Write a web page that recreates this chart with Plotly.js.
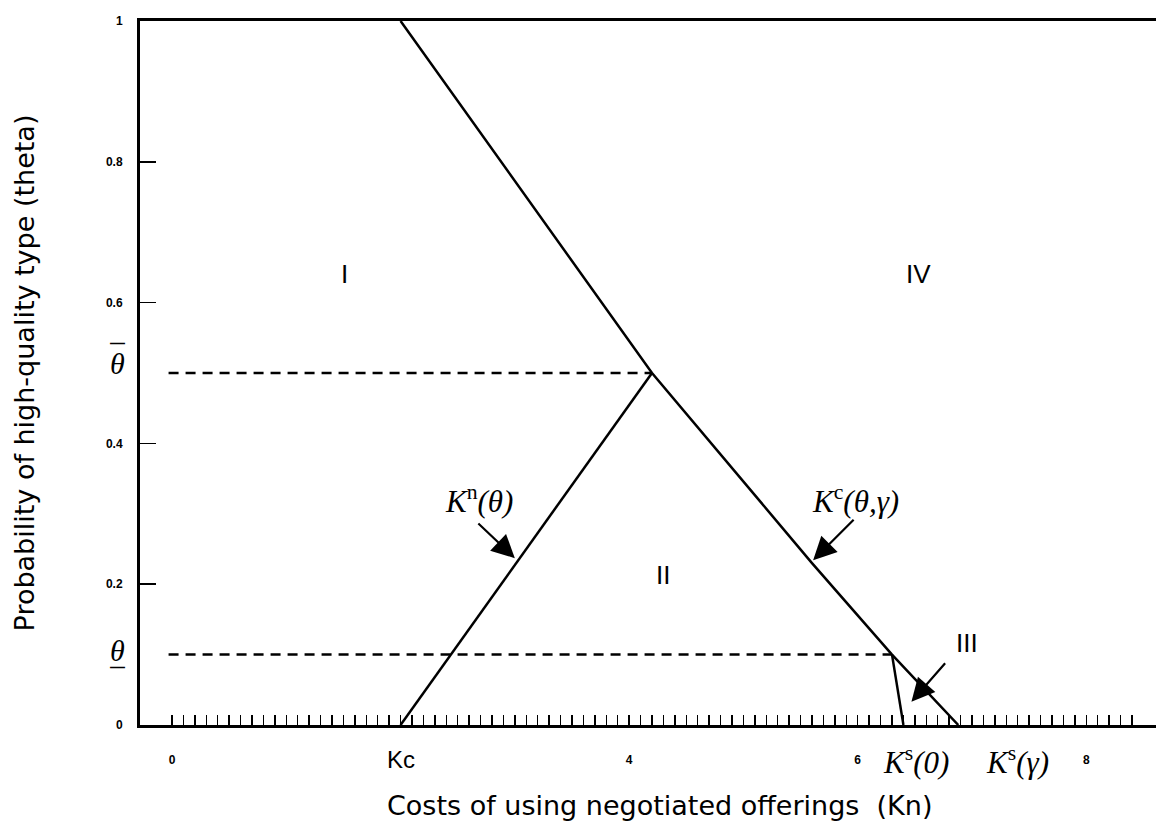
<!DOCTYPE html>
<html>
<head>
<meta charset="utf-8">
<script src="https://cdn.plot.ly/plotly-3.0.1.min.js"></script>
<style>html,body{margin:0;padding:0;background:#fff;}#chart{width:1156px;height:824px;}</style>
</head>
<body>
<div id="chart"></div>
<script>
// ---- data ----
const kcX = [2, 4.2, 5.6, 6.3, 6.88];              // K^c(theta, gamma) boundary
const kcY = [1, 0.5, 0.23, 0.1, 0];
const knX = [2, 4.2];                              // K^n(theta) boundary
const knY = [0, 0.5];
const ks0X = [6.3, 6.4];                           // K^s boundary in region III
const ks0Y = [0.1, 0];
const thetaHigh = 0.5;                             // theta-bar
const thetaLow = 0.1;                              // theta-underbar
const dashStart = -0.03;
const xTickVals = [0, 2, 4, 6, 8];
const xTickText = ['0', '', '4', '6', '8'];
const kcTickLabel = 'Kc';
const yTickVals = [0, 0.2, 0.4, 0.6, 0.8, 1];
const yTickText = ['0', '0.2', '0.4', '0.6', '0.8', '1'];
const regionLabels = ['I', 'II', 'III', 'IV'];
const regionX = [1.51, 4.3, 6.96, 6.53];
const regionY = [0.64, 0.213, 0.116, 0.64];

const minorVals = [];
for (let i = 0; i <= 84; i++) minorVals.push(+(i * 0.1).toFixed(1));

const lineStyle = {color: '#000', width: 2.5};
const dashStyle = {color: '#000', width: 2.5, dash: '10px,7px'};

const traces = [
  {x: kcX, y: kcY, mode: 'lines', line: lineStyle},
  {x: knX, y: knY, mode: 'lines', line: lineStyle},
  {x: ks0X, y: ks0Y, mode: 'lines', line: lineStyle},
  {x: [dashStart, knX[1]], y: [thetaHigh, thetaHigh], mode: 'lines', line: dashStyle},
  {x: [dashStart, ks0X[0]], y: [thetaLow, thetaLow], mode: 'lines', line: dashStyle}
];

const serif = {family: 'Liberation Serif, Times New Roman, serif', size: 31, color: '#000'};
const roman = {family: 'Liberation Sans, Arial, sans-serif', size: 26, color: '#000'};
const thetaFont = {family: 'Liberation Serif, Times New Roman, serif', size: 30, color: '#000'};
const titleFont = {family: 'DejaVu Sans, sans-serif', size: 27, color: '#000'};

const annotations = [];
for (let i = 0; i < regionLabels.length; i++) {
  annotations.push({x: regionX[i], y: regionY[i], xref: 'x', yref: 'y', text: regionLabels[i],
    xanchor: 'center', showarrow: false, font: roman});
}
// Kc tick label (larger than the numeric ticks)
annotations.push({x: xTickVals[1], y: 0, xref: 'x', yref: 'y', xanchor: 'center', yanchor: 'middle', yshift: -34,
  text: kcTickLabel, showarrow: false, font: {family: 'Liberation Sans, Arial, sans-serif', size: 24, color: '#000'}});
// curve labels
annotations.push({x: 2.69, y: 0.32, xref: 'x', yref: 'y', xanchor: 'center', text: '<i>K</i><sup>n</sup><i>(θ)</i>', showarrow: false, font: serif});
annotations.push({x: 5.98, y: 0.32, xref: 'x', yref: 'y', xanchor: 'center', text: '<i>K</i><sup>c</sup><i>(θ,γ)</i>', showarrow: false, font: serif});
annotations.push({x: 6.51, y: 0, xref: 'x', yref: 'y', xanchor: 'center', yshift: -35, text: '<i>K</i><sup>s</sup><i>(0)</i>', showarrow: false, font: serif});
annotations.push({x: 7.4, y: 0, xref: 'x', yref: 'y', xanchor: 'center', yshift: -35, text: '<i>K</i><sup>s</sup><i>(γ)</i>', showarrow: false, font: serif});
// theta labels on the y side, with over / under bars
annotations.push({x: -0.0226, y: thetaHigh, xref: 'paper', yref: 'y', xanchor: 'center', yshift: 10, text: '<i>θ</i>', showarrow: false, font: thetaFont});
annotations.push({x: -0.0226, y: thetaLow, xref: 'paper', yref: 'y', xanchor: 'center', yshift: 4, text: '<i>θ</i>', showarrow: false, font: thetaFont});
const barFont = {family: 'Liberation Sans, Arial, sans-serif', size: 15, color: '#000', weight: 'bold'};
annotations.push({x: -0.0226, y: thetaHigh, xref: 'paper', yref: 'y', xanchor: 'center', yanchor: 'middle', yshift: 31, text: '—', showarrow: false, font: barFont});
annotations.push({x: -0.0226, y: thetaLow, xref: 'paper', yref: 'y', xanchor: 'center', yanchor: 'middle', yshift: -12, text: '—', showarrow: false, font: barFont});
// x axis title
annotations.push({x: 0.511, y: 0, xref: 'paper', yref: 'paper', xanchor: 'center', yanchor: 'middle', yshift: -80,
  text: 'Costs of using negotiated offerings  (Kn)', showarrow: false, font: titleFont});
// arrows
const arrow = {xref: 'x', yref: 'y', text: '', showarrow: true, arrowhead: 2, arrowsize: 2.1, arrowwidth: 2.2, arrowcolor: '#000', standoff: 0};
annotations.push(Object.assign({}, arrow, {x: 3.0, y: 0.237, ax: -38, ay: -36}));
annotations.push(Object.assign({}, arrow, {x: 5.61, y: 0.234, ax: 42, ay: -42}));
annotations.push(Object.assign({}, arrow, {x: 6.47, y: 0.033, ax: 35, ay: -40}));

const axisFont = {family: 'Liberation Sans, Arial, sans-serif', size: 12, color: '#000', weight: 'bold'};

const layout = {
  width: 1156, height: 824,
  margin: {l: 140, r: 0, t: 21, b: 99},
  paper_bgcolor: '#fff', plot_bgcolor: '#fff',
  showlegend: false,
  hovermode: false,
  xaxis: {
    range: [-0.28, 8.61], fixedrange: true,
    tickmode: 'array', tickvals: xTickVals, ticktext: xTickText,
    ticks: 'inside', ticklen: 10, tickwidth: 1.5, tickcolor: '#000',
    ticklabelstandoff: 22,
    tickfont: axisFont,
    minor: {tickmode: 'array', tickvals: minorVals, ticks: 'inside', ticklen: 10, tickwidth: 1.5, tickcolor: '#000', showgrid: false},
    showline: true, linewidth: 3, linecolor: '#000', mirror: true,
    showgrid: false, zeroline: false,
    title: {text: ''}
  },
  yaxis: {
    range: [0, 1], fixedrange: true,
    tickmode: 'array', tickvals: yTickVals, ticktext: yTickText,
    ticks: 'inside', ticklen: 16, tickwidth: 1.5, tickcolor: '#000',
    ticklabelstandoff: 12,
    tickfont: axisFont,
    showline: true, linewidth: 3, linecolor: '#000',
    showgrid: false, zeroline: false,
    title: {text: 'Probability of high-quality type (theta)', standoff: 64, font: titleFont}
  },
  annotations: annotations
};

Plotly.newPlot('chart', traces, layout, {displayModeBar: false, staticPlot: true});
</script>
</body>
</html>
